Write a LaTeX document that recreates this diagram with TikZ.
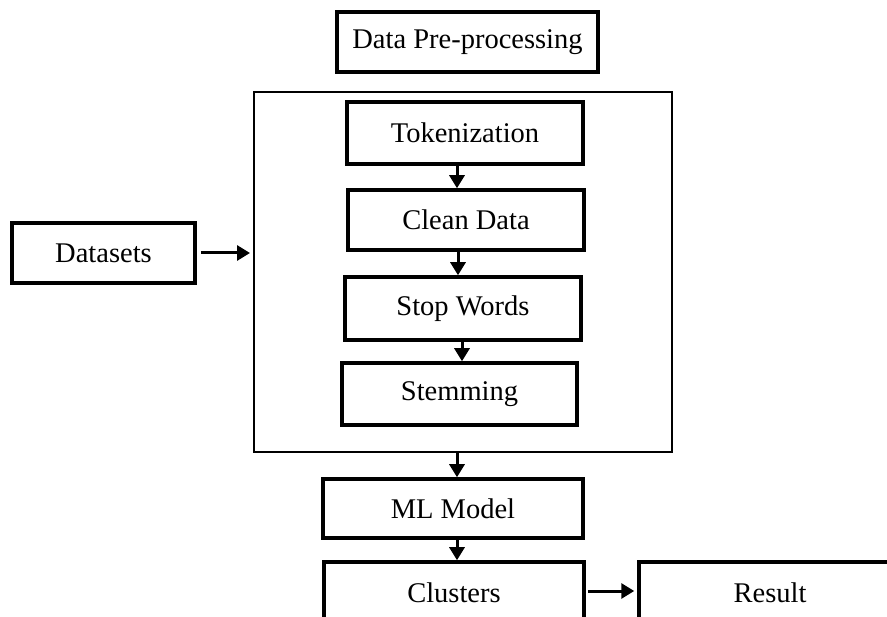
\documentclass[tikz,border=0pt]{standalone}
\usepackage{fontspec}
\setmainfont{Liberation Serif}
\usetikzlibrary{arrows.meta}

\begin{document}
\begin{tikzpicture}[x=1pt, y=-1pt,
		line join=miter,
		box/.style={draw, line width=3.5pt, inner sep=0pt,
				font=\fontsize{28.5}{32}\selectfont},
		frame/.style={draw, line width=2pt, inner sep=0pt},
		flow/.style={line width=3pt, -{Triangle[length=13pt,width=15pt]}}]

	% ---- page (the two last boxes run off the page) ----
	\useasboundingbox (0,0) rectangle (887,617);
	\clip (0,0) rectangle (887,617);

	% ---- title and outer frame ----
	\node[box, minimum width=261pt, minimum height=60pt] (dpp) at (467.5,42) {Data Pre-processing};
	\node[frame, minimum width=418pt, minimum height=360pt] (pre) at (463,272) {};

	% ---- steps inside the frame ----
	\node[box, minimum width=236pt, minimum height=62pt] (tok) at (465,133)   {Tokenization};
	\node[box, minimum width=236pt, minimum height=60pt] (cln) at (466,220)   {Clean Data};
	\node[box, minimum width=236pt, minimum height=63pt] (stp) at (463,308.5) {Stop Words};
	\node[box, minimum width=235pt, minimum height=62pt] (stm) at (459.5,394) {Stemming};

	% ---- input and the rest of the chain ----
	\node[box, minimum width=183pt, minimum height=60pt] (ds)  at (103.5,253) {Datasets};
	\node[box, minimum width=260pt, minimum height=59pt] (ml)  at (453,508.5) {ML Model};
	\node[box, minimum width=260pt, minimum height=62pt] (cls) at (454,593)   {Clusters};
	\node[box, minimum width=262pt, minimum height=62pt] (res) at (770,593)   {Result};

	% ---- arrows ----
	\draw[flow, shorten <=4pt, shorten >=3pt] (ds) -- (pre.west |- ds);
	\draw[flow] ([xshift=-8pt]tok.south) -- ([xshift=-8pt]tok.south |- cln.north);
	\draw[flow] ([xshift=-8pt]cln.south) -- ([xshift=-8pt]cln.south |- stp.north);
	\draw[flow] ([xshift=-1pt]stp.south) -- ([xshift=-1pt]stp.south |- stm.north);
	\draw[flow] ([xshift=-6pt]pre.south) -- ([xshift=-6pt]pre.south |- ml.north);
	\draw[flow] ([xshift=4pt]ml.south)   -- ([xshift=4pt]ml.south |- cls.north);
	\draw[flow, shorten <=2pt, shorten >=3pt] (cls.east |- 0,591) -- (res.west |- 0,591);

\end{tikzpicture}
\end{document}
